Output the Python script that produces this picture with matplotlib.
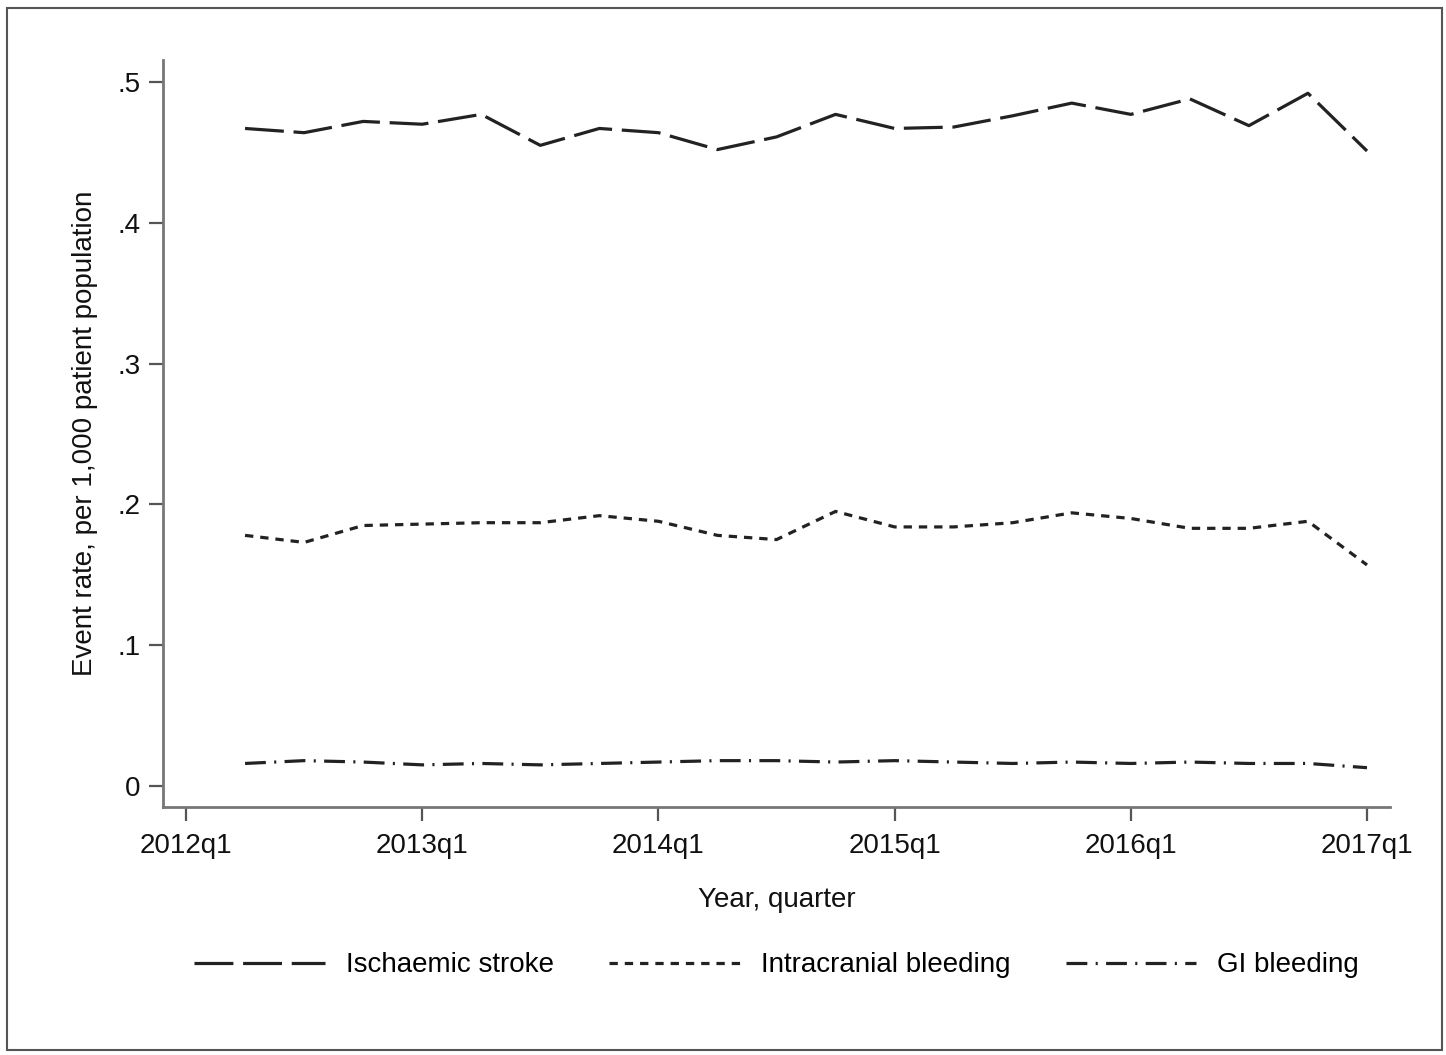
import matplotlib.pyplot as plt
from matplotlib.patches import Rectangle

plt.rcParams['font.family'] = ['Liberation Sans', 'DejaVu Sans']
plt.rcParams['lines.scale_dashes'] = False

# quarters 2012q2 .. 2017q1, indexed from 2012q1 = 0
quarters = list(range(1, 21))
tick_pos = [0, 4, 8, 12, 16, 20]
tick_labels = ["2012q1", "2013q1", "2014q1", "2015q1", "2016q1", "2017q1"]

ischaemic = [.467, .464, .472, .470, .477, .455, .467, .464, .452, .461,
             .477, .467, .468, .476, .485, .477, .488, .469, .492, .451]
intracranial = [.178, .173, .185, .186, .187, .187, .192, .188, .178, .175,
                .195, .184, .184, .187, .194, .190, .183, .183, .188, .157]
gi = [.016, .018, .017, .015, .016, .015, .016, .017, .018, .018,
      .017, .018, .017, .016, .017, .016, .017, .016, .016, .013]

fig = plt.figure(figsize=(14.46, 10.55), dpi=100)
ax = fig.add_axes([0.1127, 0.2351, 0.8486, 0.7080])

col = "#222222"
ax.plot(quarters, ischaemic, color=col, lw=2.3, dashes=(28, 7),
        label="Ischaemic stroke")
ax.plot(quarters, intracranial, color=col, lw=2.3, dashes=(6, 5),
        label="Intracranial bleeding")
ax.plot(quarters, gi, color=col, lw=2.3, dashes=(15, 6, 1.5, 6),
        label="GI bleeding")

ax.set_xlim(-0.39, 20.39)
ax.set_ylim(-0.0149, 0.5156)
ax.set_xticks(tick_pos)
ax.set_xticklabels(tick_labels)
ax.set_yticks([0, .1, .2, .3, .4, .5])
ax.set_yticklabels(["0", ".1", ".2", ".3", ".4", ".5"])

for s in ["top", "right"]:
    ax.spines[s].set_visible(False)
for s in ["left", "bottom"]:
    ax.spines[s].set_color("#777777")
    ax.spines[s].set_linewidth(2)
ax.tick_params(length=10, width=1.6, color="#555555", labelsize=20,
               pad=6, labelcolor="#111111")
ax.tick_params(axis="x", pad=9)

ax.set_xlabel("Year, quarter", fontsize=20, labelpad=20, color="#111111")
ax.set_ylabel("Event rate, per 1,000 patient population", fontsize=20,
              labelpad=14, color="#111111")

fig.legend(loc="center", bbox_to_anchor=(0.537, 0.085), ncol=3,
           frameon=False, fontsize=20, handlelength=4.7,
           handletextpad=0.75, columnspacing=2.0)

fig.patches.append(Rectangle((7 / 1446, 5 / 1055), 1435 / 1446, 1042 / 1055,
                             transform=fig.transFigure, fill=False,
                             edgecolor="#555555", lw=1.5))

fig.savefig("out.png", dpi=100)
